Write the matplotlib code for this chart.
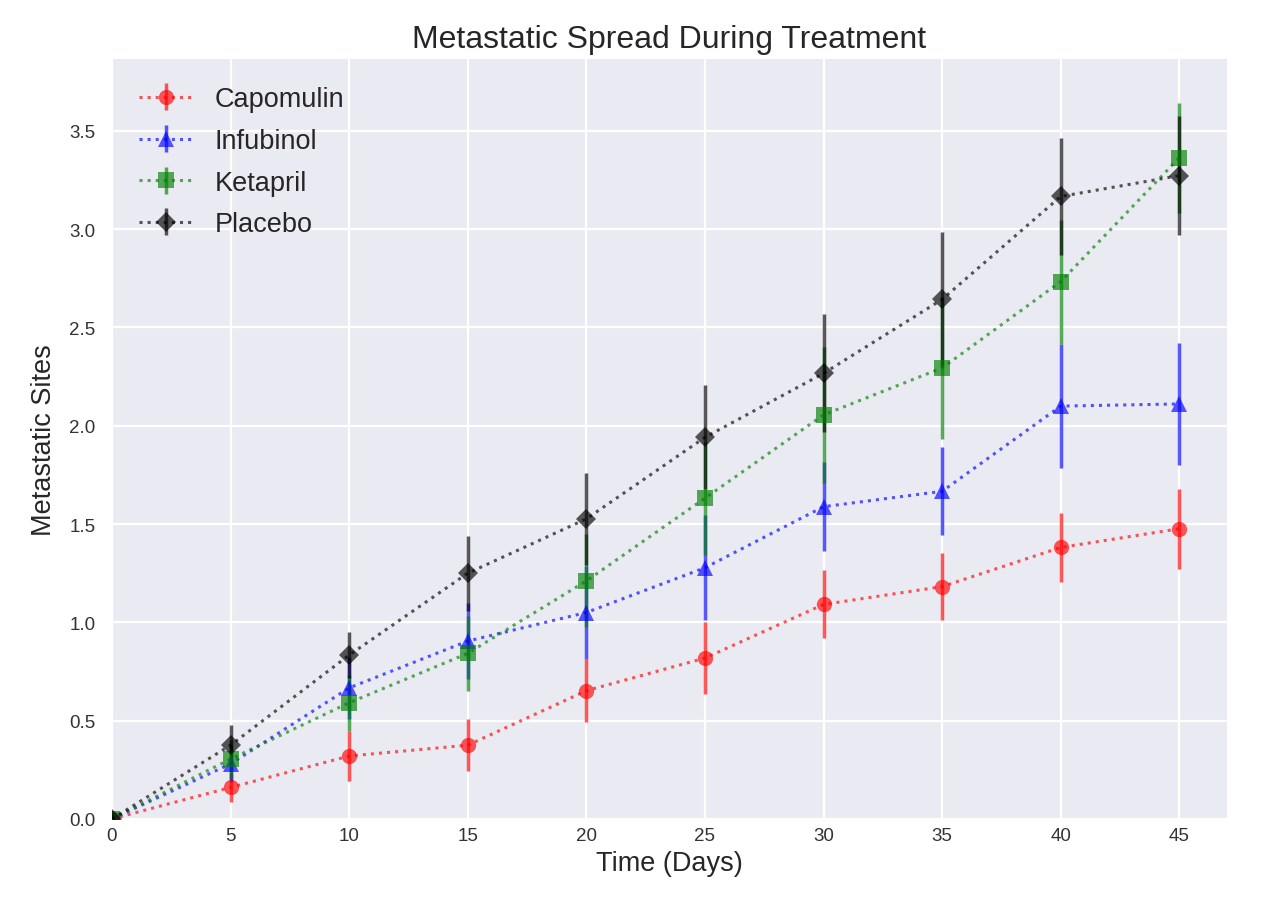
import matplotlib
matplotlib.use("Agg")
import matplotlib.pyplot as plt
import numpy as np

plt.style.use("seaborn-v0_8-darkgrid")
plt.rcParams['font.family'] = ['Liberation Sans', 'DejaVu Sans']

days = [0, 5, 10, 15, 20, 25, 30, 35, 40, 45]
capomulin = [0.0, 0.16, 0.32, 0.375, 0.652174, 0.818182, 1.090909, 1.181818, 1.380952, 1.476190]
capomulin_sem = [0.0, 0.074833, 0.125433, 0.132048, 0.161621, 0.181818, 0.172944, 0.169496, 0.175610, 0.202591]
infubinol = [0.0, 0.28, 0.666667, 0.904762, 1.05, 1.277778, 1.588235, 1.666667, 2.1, 2.111111]
infubinol_sem = [0.0, 0.091652, 0.159364, 0.194015, 0.234801, 0.265753, 0.227823, 0.224733, 0.314466, 0.309320]
ketapril = [0.0, 0.304348, 0.590909, 0.842105, 1.210526, 1.631579, 2.055556, 2.294118, 2.733333, 3.363636]
ketapril_sem = [0.0, 0.098100, 0.142018, 0.191381, 0.236680, 0.288275, 0.347467, 0.361418, 0.315725, 0.278722]
placebo = [0.0, 0.375, 0.833333, 1.25, 1.526316, 1.941176, 2.266667, 2.642857, 3.166667, 3.272727]
placebo_sem = [0.0, 0.100947, 0.115261, 0.190221, 0.234064, 0.263888, 0.300264, 0.341412, 0.297294, 0.304240]

series = [
    ("Capomulin", capomulin, capomulin_sem, "red", "o"),
    ("Infubinol", infubinol, infubinol_sem, "blue", "^"),
    ("Ketapril", ketapril, ketapril_sem, "green", "s"),
    ("Placebo", placebo, placebo_sem, "black", "D"),
]

fig = plt.figure(figsize=(12.74, 9.12), dpi=100)
ax = fig.add_axes([0.0879, 0.101, 0.875, 0.833])

for name, vals, sem, col, mk in series:
    ax.errorbar(days, vals, yerr=sem, color=col, marker=mk, linestyle=":",
                linewidth=2.2, markersize=11 if mk != "D" else 10,
                markeredgewidth=0, elinewidth=2.5, alpha=0.65, label=name)

ax.set_xlim(0, 47)
ax.set_ylim(0, 3.865)
ax.set_xticks(days)
ax.set_yticks(np.arange(0, 3.6, 0.5))
ax.tick_params(labelsize=13.5, colors="#333333")
ax.tick_params(axis="x", pad=6)
ax.tick_params(axis="y", pad=12)
ax.grid(color="white", linewidth=1.6)
ax.set_facecolor("#EAEAF2")

ax.set_title("Metastatic Spread During Treatment", fontsize=23, color="#262626", pad=9)
ax.set_xlabel("Time (Days)", fontsize=19.5, color="#262626")
ax.set_ylabel("Metastatic Sites", fontsize=19.5, color="#262626", labelpad=9)

ax.legend(loc="upper left", fontsize=19.5, frameon=False, labelspacing=0.58,
          borderaxespad=0.6)

fig.savefig("out.png", dpi=100)
